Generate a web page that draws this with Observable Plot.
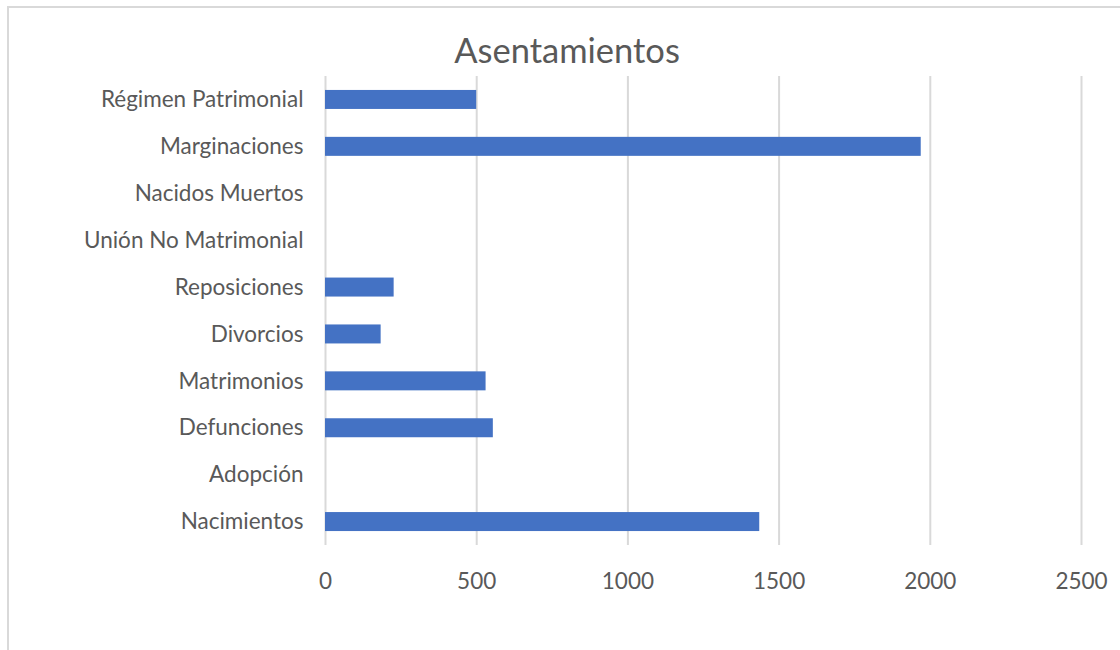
<!DOCTYPE html>
<html>
<head>
<meta charset="utf-8">
<script src="https://cdn.jsdelivr.net/npm/d3@7"></script>
<script src="https://cdn.jsdelivr.net/npm/@observablehq/plot@0.6"></script>
<style>
  html, body { margin: 0; padding: 0; background: #fff; }
  #wrap { position: relative; width: 1120px; height: 650px; overflow: hidden; font-family: Lato, "Open Sans", sans-serif; }
  #frame { position: absolute; left: 7px; top: 6px; width: 1200px; height: 700px; border: 2px solid #d9d9d9; box-sizing: border-box; }
  #title { position: absolute; left: 0; width: 1120px; top: 29px; text-align: center; font-size: 34.5px; color: #595959; line-height: 42px; padding-left: 14px; box-sizing: border-box; }
  #chart { position: absolute; left: 0; top: 0; }
</style>
</head>
<body>
<div id="wrap">
  <div id="frame"></div>
  <div id="chart"></div>
  <div id="title">Asentamientos</div>
</div>
<script>
const categories = ["Régimen Patrimonial", "Marginaciones", "Nacidos Muertos", "Unión No Matrimonial", "Reposiciones", "Divorcios", "Matrimonios", "Defunciones", "Adopción", "Nacimientos"];
const values = [500, 1970, 0, 0, 227, 184, 531, 555, 0, 1436];
const xTicks = [0, 500, 1000, 1500, 2000, 2500];

const data = categories.map((c, i) => ({category: c, value: values[i]}));

const chart = Plot.plot({
  width: 1120,
  height: 650,
  marginLeft: 325,
  marginRight: 39,
  marginTop: 76,
  marginBottom: 105,
  style: {fontFamily: "Lato, 'Open Sans', sans-serif", background: "transparent"},
  x: {domain: [0, 2500], label: null},
  y: {domain: categories, paddingInner: 0.595, paddingOuter: 0.2975, round: false, label: null},
  marks: [
    Plot.gridX(xTicks, {stroke: "#d9d9d9", strokeOpacity: 1, strokeWidth: 2}),
    Plot.barX(data, {x: "value", y: "category", fill: "#4472C4"}),
    Plot.axisX({ticks: xTicks, tickFormat: d => String(d), tickSize: 0, tickPadding: 28, fontSize: 22.5, fill: "#595959", label: null}),
    Plot.axisY({tickSize: 0, tickPadding: 22, fontSize: 22.5, fill: "#595959", label: null})
  ]
});
document.getElementById("chart").appendChild(chart);
</script>
</body>
</html>
